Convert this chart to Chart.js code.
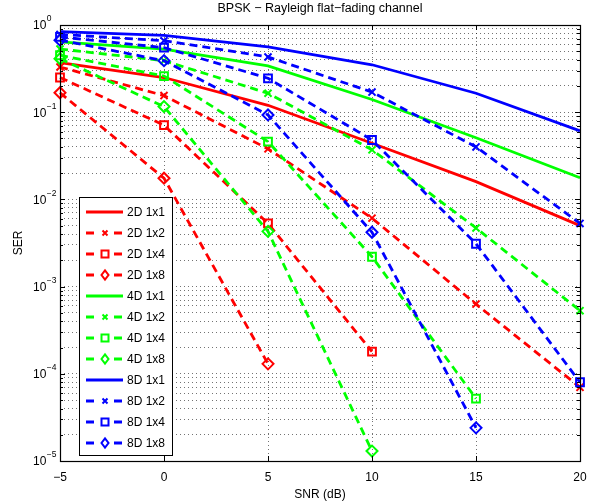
<!DOCTYPE html>
<html>
<head>
<meta charset="utf-8">
<script src="https://cdn.jsdelivr.net/npm/chart.js@4.4.1/dist/chart.umd.min.js"></script>
<style>
  body { margin: 0; background: #fff; }
  #wrap { width: 597px; height: 504px; }
</style>
</head>
<body>
<div id="wrap"><canvas id="serChart" width="597" height="504"></canvas></div>
<script>
// SNR points (dB)
const snr = [-5, 0, 5, 10, 15, 20];
const xTicks = [-5, 0, 5, 10, 15, 20];
const yDecades = [1, 1e-1, 1e-2, 1e-3, 1e-4, 1e-5];
const yTickExp = ['0', '\u22121', '\u22122', '\u22123', '\u22124', '\u22125'];

// SER values (null = not simulated)
const ser2D_1x1 = [0.37, 0.25, 0.12, 0.044, 0.016, 0.005];
const ser2D_1x2 = [0.33, 0.155, 0.038, 0.0061, 0.00063, 0.00007];
const ser2D_1x4 = [0.25, 0.071, 0.0053, 0.00018, null, null];
const ser2D_1x8 = [0.167, 0.0175, 0.00013, null, null, null];
const ser4D_1x1 = [0.64, 0.53, 0.34, 0.14, 0.051, 0.0177];
const ser4D_1x2 = [0.53, 0.39, 0.165, 0.037, 0.0047, 0.00053];
const ser4D_1x4 = [0.45, 0.26, 0.046, 0.0022, 0.000052, null];
const ser4D_1x8 = [0.41, 0.116, 0.0043, 0.000013, null, null];
const ser8D_1x1 = [0.84, 0.76, 0.56, 0.35, 0.165, 0.061];
const ser8D_1x2 = [0.78, 0.66, 0.43, 0.17, 0.040, 0.0053];
const ser8D_1x4 = [0.73, 0.55, 0.245, 0.048, 0.0031, 0.00008];
const ser8D_1x8 = [0.67, 0.39, 0.093, 0.0042, 0.000024, null];

const seriesLabels = ['2D 1x1', '2D 1x2', '2D 1x4', '2D 1x8',
                      '4D 1x1', '4D 1x2', '4D 1x4', '4D 1x8',
                      '8D 1x1', '8D 1x2', '8D 1x4', '8D 1x8'];
const seriesValues = [ser2D_1x1, ser2D_1x2, ser2D_1x4, ser2D_1x8,
                      ser4D_1x1, ser4D_1x2, ser4D_1x4, ser4D_1x8,
                      ser8D_1x1, ser8D_1x2, ser8D_1x4, ser8D_1x8];

const groupColors = ['#ff0000', '#00ff00', '#0000ff'];
const markers = [false, 'crossRot', 'rect', 'rectRot'];
const markerRadius = { crossRot: 5, rect: 5.5, rectRot: 5.5 };
const FONT = '"Liberation Sans", Arial, Helvetica, sans-serif';
const DASH = [8, 5];

const datasets = seriesLabels.map((label, i) => {
    const color = groupColors[Math.floor(i / 4)];
    const marker = markers[i % 4];
    return {
        label: label,
        data: snr.map((x, j) => ({ x: x, y: seriesValues[i][j] })).filter(p => p.y !== null),
        borderColor: color,
        backgroundColor: color,
        borderWidth: 2.8,
        borderDash: marker ? DASH : [],
        tension: 0,
        fill: false,
        clip: false,
        order: seriesLabels.length - i,
        pointStyle: marker || 'circle',
        pointRadius: marker ? markerRadius[marker] : 0,
        pointBorderWidth: 2,
        pointBorderColor: color,
        pointBackgroundColor: 'rgba(0,0,0,0)'
    };
});

// small marker for the legend
function legendMarker(ctx, style, cx, cy, r) {
    ctx.beginPath();
    if (style === 'rect') {
        ctx.rect(cx - r, cy - r, 2 * r, 2 * r);
    } else if (style === 'rectRot') {
        ctx.moveTo(cx, cy - r * 1.3);
        ctx.lineTo(cx + r, cy);
        ctx.lineTo(cx, cy + r * 1.3);
        ctx.lineTo(cx - r, cy);
        ctx.closePath();
    } else if (style === 'crossRot') {
        ctx.moveTo(cx - r, cy - r); ctx.lineTo(cx + r, cy + r);
        ctx.moveTo(cx + r, cy - r); ctx.lineTo(cx - r, cy + r);
    }
    ctx.stroke();
}

// MATLAB look: frame, inward ticks, superscript labels, title, legend box
const matlabAxes = {
    id: 'matlabAxes',
    afterDraw(chart) {
        const ctx = chart.ctx;
        const a = chart.chartArea;
        const x = chart.scales.x, y = chart.scales.y;
        ctx.save();

        // tick marks
        ctx.strokeStyle = '#000';
        ctx.lineWidth = 1;
        ctx.setLineDash([]);
        ctx.beginPath();
        xTicks.forEach(v => {
            const px = Math.round(x.getPixelForValue(v)) + 0.5;
            ctx.moveTo(px, a.bottom); ctx.lineTo(px, a.bottom - 5);
            ctx.moveTo(px, a.top); ctx.lineTo(px, a.top + 5);
        });
        y.ticks.forEach(t => {
            const py = Math.round(y.getPixelForValue(t.value)) + 0.5;
            const len = t.major ? 5 : 3;
            ctx.moveTo(a.left, py); ctx.lineTo(a.left + len, py);
            ctx.moveTo(a.right, py); ctx.lineTo(a.right - len, py);
        });
        ctx.stroke();

        // frame
        ctx.lineWidth = 1.2;
        ctx.strokeRect(Math.round(a.left) + 0.5, Math.round(a.top) + 0.5,
                       Math.round(a.right - a.left), Math.round(a.bottom - a.top));

        // y tick labels 10^n
        ctx.fillStyle = '#000';
        ctx.textBaseline = 'middle';
        ctx.textAlign = 'left';
        yDecades.forEach((v, i) => {
            const py = y.getPixelForValue(v);
            ctx.font = '12px ' + FONT;
            ctx.fillText('10', 33, py + 1);
            const w = ctx.measureText('10').width;
            ctx.font = '8.5px ' + FONT;
            ctx.fillText(yTickExp[i], 33 + w + 0.5, py - 6);
        });

        // axis titles and chart title
        ctx.font = '12.5px ' + FONT;
        ctx.textAlign = 'center';
        ctx.fillText('BPSK \u2212 Rayleigh flat\u2212fading channel', (a.left + a.right) / 2, 9);
        ctx.font = '12px ' + FONT;
        ctx.save();
        ctx.translate(19, (a.top + a.bottom) / 2);
        ctx.rotate(-Math.PI / 2);
        ctx.fillText('SER', 0, 0);
        ctx.restore();

        // legend
        const lx = 79.5, ly = 197.5, lw = 93, lh = 258;
        ctx.fillStyle = '#fff';
        ctx.fillRect(lx, ly, lw, lh);
        ctx.strokeStyle = '#000';
        ctx.lineWidth = 1;
        ctx.strokeRect(lx, ly, lw, lh);
        chart.data.datasets.forEach((ds, i) => {
            const cy = 212 + i * 21;
            const marker = markers[i % 4];
            ctx.strokeStyle = ds.borderColor;
            ctx.lineWidth = 2.8;
            ctx.setLineDash(marker ? [8, 6] : []);
            ctx.beginPath();
            ctx.moveTo(86, cy); ctx.lineTo(123, cy);
            ctx.stroke();
            ctx.setLineDash([]);
            if (marker) {
                ctx.fillStyle = '#fff';
                ctx.fillRect(99, cy - 6, 12, 12);
                ctx.lineWidth = 2;
                legendMarker(ctx, marker, 105, cy, marker === 'crossRot' ? 2.5 : 3.5);
            }
            ctx.fillStyle = '#000';
            ctx.font = '12px ' + FONT;
            ctx.textAlign = 'left';
            ctx.textBaseline = 'middle';
            ctx.fillText(ds.label, 127, cy + 1);
        });
        ctx.restore();
    }
};

const chart = new Chart(document.getElementById('serChart').getContext('2d'), {
    type: 'line',
    data: { datasets: datasets },
    options: {
        responsive: false,
        animation: false,
        events: [],
        layout: { padding: { left: 0, top: 25, right: 17, bottom: 0 } },
        plugins: {
            legend: { display: false },
            title: { display: false },
            tooltip: { enabled: false }
        },
        scales: {
            x: {
                type: 'linear',
                min: -5,
                max: 20,
                afterBuildTicks(scale) {
                    scale.ticks = xTicks.map(v => ({ value: v }));
                },
                afterFit(scale) { scale.height = 43; },
                ticks: {
                    color: '#000',
                    font: { family: FONT, size: 12 },
                    padding: 9,
                    maxRotation: 0,
                    callback: v => (v < 0 ? '\u2212' + Math.abs(v) : String(v))
                },
                grid: { color: 'rgba(0,0,0,0.55)', lineWidth: 1, drawTicks: false },
                border: { display: false, dash: [1, 3] },
                title: {
                    display: true,
                    text: 'SNR (dB)',
                    color: '#000',
                    font: { family: FONT, size: 12 },
                    padding: { top: 0, bottom: 2 }
                }
            },
            y: {
                type: 'logarithmic',
                min: 1e-5,
                max: 1,
                afterBuildTicks(scale) {
                    const t = [];
                    for (let e = -5; e < 0; e++) {
                        for (let m = 1; m < 10; m++) {
                            t.push({ value: m * Math.pow(10, e), major: m === 1 });
                        }
                    }
                    t.push({ value: 1, major: true });
                    scale.ticks = t;
                },
                afterFit(scale) { scale.width = 60; },
                ticks: { display: false },
                grid: { color: 'rgba(0,0,0,0.55)', lineWidth: 1, drawTicks: false },
                border: { display: false, dash: [1, 3] }
            }
        }
    },
    plugins: [matlabAxes]
});
</script>
</body>
</html>
